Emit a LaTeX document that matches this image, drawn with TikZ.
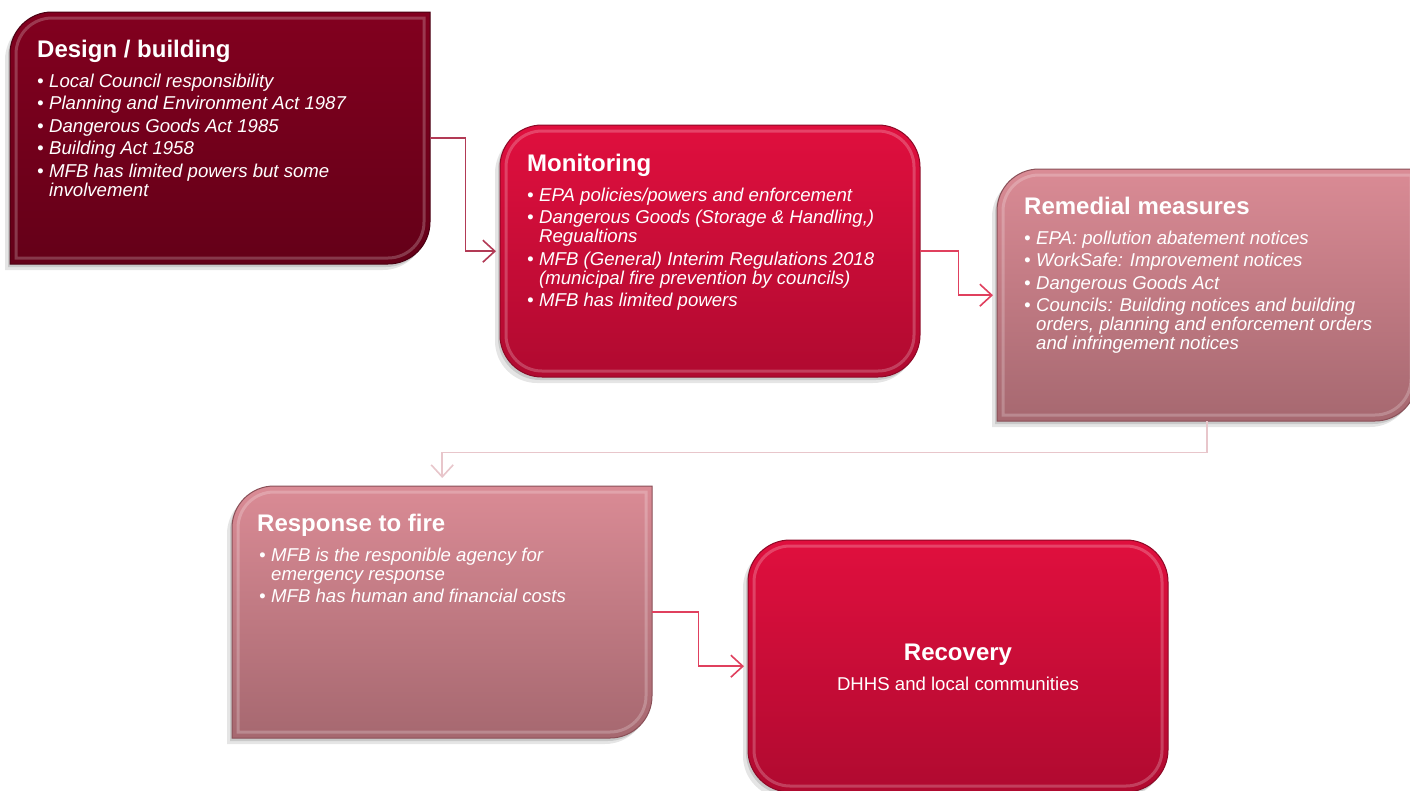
\documentclass[tikz,border=0pt]{standalone}
\usepackage{fontspec}
\setmainfont{Liberation Sans}
\usetikzlibrary{arrows.meta}
\definecolor{maroonT}{HTML}{82001F}
\definecolor{maroonB}{HTML}{640018}
\definecolor{maroonE}{HTML}{4A0012}
\definecolor{redT}{HTML}{E00F3E}
\definecolor{redB}{HTML}{B00A30}
\definecolor{redE}{HTML}{8E0826}
\definecolor{pinkT}{HTML}{DA8B95}
\definecolor{pinkB}{HTML}{A66870}
\definecolor{pinkE}{HTML}{8A5058}
\definecolor{lnA}{HTML}{B23A55}
\definecolor{lnB}{HTML}{E0405E}
\definecolor{lnC}{HTML}{E8C6CB}
\tikzset{
  shapeA/.style n args={5}{insert path={(#1,#4) -- (#1,#2+#5) .. controls (#1,#2+0.448*#5) and (#1+0.448*#5,#2) .. (#1+#5,#2) -- (#3,#2) -- (#3,#4-#5) .. controls (#3,#4-0.448*#5) and (#3-0.448*#5,#4) .. (#3-#5,#4) -- cycle}},
  shapeB/.style n args={5}{rounded corners=#5pt, insert path={(#1,#2) rectangle (#3,#4)}},
  frame/.style={anchor=north west, minimum width=420pt, minimum height=252pt, inner sep=0pt},
  ttl/.style={font=\fontsize{24}{28}\selectfont\bfseries, text=white, inner sep=0pt, anchor=base west},
  bdy/.style={font=\fontsize{18.6}{19}\selectfont\itshape, text=white, inner sep=0pt, anchor=north west, align=left},
  conn/.style={line width=1.6pt, -{Straight Barb[length=12pt,width=22pt]}},
}
\newcommand\mkbox[8]{%
  \path[fill=black, opacity=0.10, shape#1={#2-5}{#3+6}{#4-5}{#5+6}{42}];
  \path[fill=black, opacity=0.12, shape#1={#2-2}{#3+3}{#4-2}{#5+3}{42}];
  \path[top color=#6, bottom color=#7, shape#1={#2}{#3}{#4}{#5}{42}];
  \path[draw=white, opacity=0.22, line width=3pt, shape#1={#2+6}{#3+6}{#4-6}{#5-6}{36}];
  \path[draw=#8, line width=1pt, shape#1={#2}{#3}{#4}{#5}{42}];
}
\newcommand\bul{\makebox[12pt][l]{•}}
\newcommand\ind{\hspace*{12pt}}
\newcommand\fst{\rule{0pt}{14pt}}
\begin{document}
\begin{tikzpicture}[x=1pt, y=-1pt]
\fill[white] (0,0) rectangle (1410,790);
\useasboundingbox (0,0) rectangle (1410,790);
\clip (0,0) rectangle (1410,790);

% boxes
\mkbox{A}{10}{12}{430}{264}{maroonT}{maroonB}{maroonE}
\mkbox{B}{500}{125}{920}{377}{redT}{redB}{redE}
\mkbox{A}{997}{169}{1417}{421}{pinkT}{pinkB}{pinkE}
\mkbox{A}{232}{486}{652}{738}{pinkT}{pinkB}{pinkE}
\mkbox{B}{748}{540}{1168}{792}{redT}{redB}{redE}

\node[frame] (d) at (10,12) {};
\node[frame] (m) at (500,125) {};
\node[frame] (r) at (997,169) {};
\node[frame] (f) at (232,486) {};
\node[frame] (c) at (748,540) {};

% connectors
\draw[conn, draw=lnA, shorten >=4pt] (d.east) -- ++(35,0) |- (m.west);
\draw[conn, draw=lnB, shorten >=4pt] (m.east) -- ++(38,0) |- (r.west);
\draw[conn, draw=lnC, shorten >=8pt] (r.south) -- ++(0,31) -| (f.north);
\draw[conn, draw=lnB, shorten >=4pt] (f.east) -- ++(46,0) |- (c.west);

% texts
\node[ttl] (dT) at (37,57) {Design / building};
\node[bdy] (dB) at (37,73) {\fst\bul Local Council responsibility\\[3.5pt]
\bul Planning and Environment Act 1987\\[3.5pt]
\bul Dangerous Goods Act 1985\\[3.5pt]
\bul Building Act 1958\\[3.5pt]
\bul MFB has limited powers but some\\
\ind involvement};

\node[ttl] (mT) at (527,171) {Monitoring};
\node[bdy] (mB) at (527,187) {\fst\bul EPA policies/powers and enforcement\\[3.5pt]
\bul Dangerous Goods (Storage \& Handling,)\\
\ind Regualtions\\[3.5pt]
\bul MFB (General) Interim Regulations 2018\\
\ind (municipal fire prevention by councils)\\[3.5pt]
\bul MFB has limited powers};

\node[ttl] (rT) at (1024,214) {Remedial measures};
\node[bdy] (rB) at (1024,230) {\fst\bul EPA: pollution abatement notices\\[3.5pt]
\bul WorkSafe: Improvement notices\\[3.5pt]
\bul Dangerous Goods Act\\[3.5pt]
\bul Councils: Building notices and building\\
\ind orders, planning and enforcement orders\\
\ind and infringement notices};

\node[ttl] (fT) at (257,531) {Response to fire};
\node[bdy] (fB) at (259,547) {\fst\bul MFB is the responible agency for\\
\ind emergency response\\[3.5pt]
\bul MFB has human and financial costs};

\node[ttl, anchor=base] (cT) at (958,660) {Recovery};
\node[font=\fontsize{18.6}{19}\selectfont, text=white, inner sep=0pt, anchor=base] (cB) at (958,690) {DHHS and local communities};
\end{tikzpicture}
\end{document}
